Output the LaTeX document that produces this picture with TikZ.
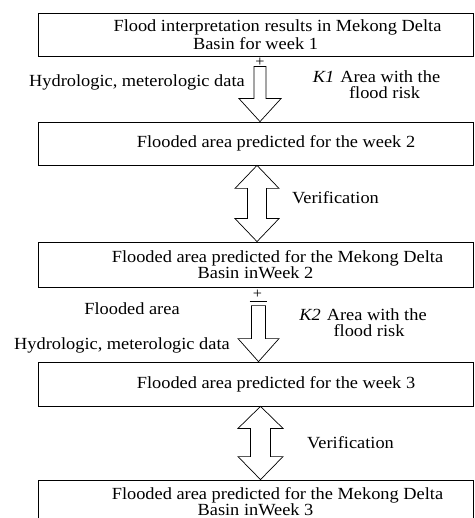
\documentclass[tikz,border=0pt]{standalone}
\usepackage{fontspec}
\setmainfont[FakeStretch=1.08]{Liberation Serif}
\usetikzlibrary{calc}
\tikzset{
  panel/.style={draw, line width=0.8pt, minimum width=435pt, minimum height=43pt, inner sep=0pt, align=center, font=\fontsize{17}{16}\selectfont},
  lbl/.style={inner sep=0pt, align=center, font=\fontsize{17}{16}\selectfont},
  plus/.style={inner sep=0pt, font=\fontsize{15}{15}\selectfont},
  blockarrow/.style={draw, line width=0.7pt, line join=miter},
}

\begin{document}
\begin{tikzpicture}[x=1pt, y=-1pt]
  \useasboundingbox (0,0) rectangle (474,518);
  \clip (0,0) rectangle (474,518);

  % boxes
  \node[panel] (b1) at (255.5,34.5) {\hspace*{44pt}Flood interpretation results in Mekong Delta\\[2pt]Basin for week 1};
  \node[panel] (b2) at (255.5,143.5) {\hspace*{41pt}Flooded area predicted for the week 2};
  \node[panel, minimum height=45pt] (b3) at (255.5,264.5) {\hspace*{44pt}Flooded area predicted for the Mekong Delta\\Basin inWeek 2};
  \node[panel, minimum height=44pt] (b4) at (255.5,384) {\hspace*{41pt}Flooded area predicted for the week 3};
  \node[panel] (b5) at (255.5,501.5) {\hspace*{44pt}Flooded area predicted for the Mekong Delta\\Basin inWeek 3};

  % arrow b1 -> b2
  \coordinate (t1) at ($(b2.north)+(4.5,0)$);
  \draw[blockarrow] (t1) -- ++(-21,-23) -- ++(15,0) -- ++(0,-32) -- ++(12,0) -- ++(0,32) -- ++(15,0) -- cycle;
  \node[plus] (p1) at ($(b1.south)+(4.5,6)$) {+};
  \node[lbl, anchor=east] (hyd1) at (245,82) {Hydrologic, meterologic data};
  \node[lbl] (risk1) at (376.5,85) {\textit{K1}\hspace{6pt}Area with the\\\hspace*{16pt}flood risk};

  % verification b2 <-> b3
  \coordinate (v1a) at ($(b2.south)+(1.5,0)$);
  \coordinate (v1b) at ($(b3.north)+(1.5,0)$);
  \draw[blockarrow] (v1a) -- ++(22,23) -- ++(-12.5,0) -- ($(v1b)+(9.5,-23)$) -- ++(12.5,0) -- (v1b)
    -- ++(-22,-23) -- ++(12.5,0) -- ($(v1a)+(-9.5,23)$) -- ++(-12.5,0) -- cycle;
  \node[lbl, anchor=west] (ver1) at (292,198) {Verification};

  % arrow b3 -> b4
  \coordinate (t2) at ($(b4.north)+(3,0)$);
  \draw[blockarrow] (t2) -- ++(-20.5,-23) -- ++(13.5,0) -- ++(0,-33) -- ++(14,0) -- ++(0,33) -- ++(13.5,0) -- cycle;
  \draw[line width=0.7pt] ($(t2)+(-9,-60)$) -- ++(17,0);
  \node[plus] (p2) at ($(b3.south)+(2,7)$) {+};
  \node[lbl] (flood2) at (132,309) {Flooded area};
  \node[lbl, anchor=east] (hyd2) at (230,345) {Hydrologic, meterologic data};
  \node[lbl] (risk2) at (363,323) {\textit{K2}\hspace{6pt}Area with the\\\hspace*{12pt}flood risk};

  % verification b4 <-> b5
  \coordinate (v2a) at ($(b4.south)+(5,0)$);
  \coordinate (v2b) at ($(b5.north)+(5,0)$);
  \draw[blockarrow] (v2a) -- ++(22.5,22) -- ++(-12.5,0) -- ($(v2b)+(10,-23)$) -- ++(12.5,0) -- (v2b)
    -- ++(-22.5,-23) -- ++(12.5,0) -- ($(v2a)+(-10,22)$) -- ++(-12.5,0) -- cycle;
  \node[lbl, anchor=west] (ver2) at (307,443) {Verification};
\end{tikzpicture}
\end{document}
